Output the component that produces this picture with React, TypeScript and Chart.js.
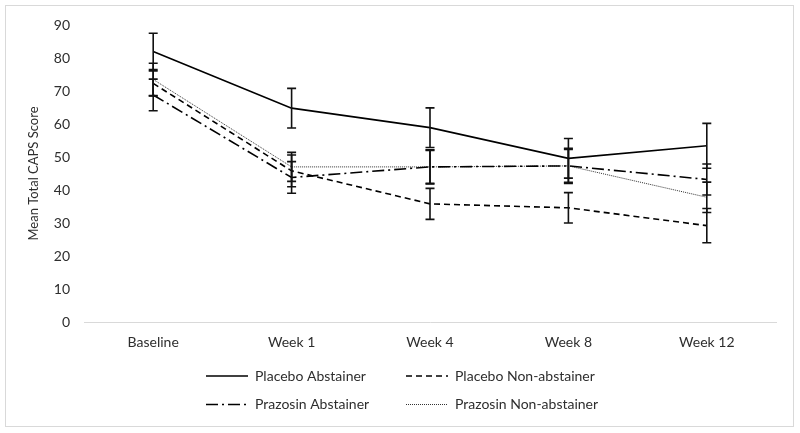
import React, { useEffect, useRef } from "react";
import { Chart, registerables } from "chart.js";

Chart.register(...registerables);

const categories = ["Baseline", "Week 1", "Week 4", "Week 8", "Week 12"];
const yTicks = [0, 10, 20, 30, 40, 50, 60, 70, 80, 90];

const placeboAbstainer = [82, 64.8, 58.9, 49.6, 53.4];
const placeboAbstainerErr = [5.5, 6, 6, 6, 6.8];
const placeboNonAbstainer = [72.3, 45.8, 35.8, 34.6, 29.2];
const placeboNonAbstainerErr = [3.8, 4.8, 4.7, 4.6, 5.2];
const prazosinAbstainer = [68.8, 43.8, 47, 47.3, 43.2];
const prazosinAbstainerErr = [4.8, 4.8, 5, 5.3, 4.7];
const prazosinNonAbstainer = [73.5, 47, 47, 47.3, 37.8];
const prazosinNonAbstainerErr = [4.9, 4.4, 5.2, 5, 4.6];

const seriesNames = [
  "Placebo Abstainer",
  "Placebo Non-abstainer",
  "Prazosin Abstainer",
  "Prazosin Non-abstainer",
];

const FONT = "Lato";
const TEXT = "#2e2e2e";

const errorBarPlugin = {
  id: "errorBars",
  afterDatasetsDraw(chart: any) {
    const ctx = chart.ctx;
    const y = chart.scales.y;
    ctx.save();
    ctx.strokeStyle = "#111";
    ctx.lineWidth = 1.6;
    ctx.setLineDash([]);
    chart.data.datasets.forEach((ds: any, i: number) => {
      const meta = chart.getDatasetMeta(i);
      meta.data.forEach((pt: any, j: number) => {
        const v = ds.data[j];
        const e = ds.errors[j];
        const x = pt.x;
        const top = y.getPixelForValue(v + e);
        const bot = y.getPixelForValue(v - e);
        ctx.beginPath();
        ctx.moveTo(x, top);
        ctx.lineTo(x, bot);
        ctx.moveTo(x - 4.5, top);
        ctx.lineTo(x + 4.5, top);
        ctx.moveTo(x - 4.5, bot);
        ctx.lineTo(x + 4.5, bot);
        ctx.stroke();
      });
    });
    ctx.restore();
  },
};

const customLegendPlugin = {
  id: "customLegend",
  afterDraw(chart: any) {
    const ctx = chart.ctx;
    const cols = [206, 406];
    const rows = [376, 404.5];
    ctx.save();
    chart.data.datasets.forEach((ds: any, i: number) => {
      const cx = cols[i % 2];
      const cy = rows[Math.floor(i / 2)];
      ctx.strokeStyle = ds.borderColor;
      ctx.lineWidth = ds.borderWidth;
      ctx.setLineDash(ds.borderDash || []);
      ctx.beginPath();
      ctx.moveTo(cx, cy);
      ctx.lineTo(cx + 42, cy);
      ctx.stroke();
      ctx.setLineDash([]);
      ctx.fillStyle = TEXT;
      ctx.font = `14px ${FONT}`;
      ctx.textBaseline = "middle";
      ctx.textAlign = "left";
      ctx.fillText(ds.label, cx + 49, cy);
    });
    ctx.restore();
  },
};

const frameBorderPlugin = {
  id: "frameBorder",
  beforeDraw(chart: any) {
    const ctx = chart.ctx;
    ctx.save();
    ctx.fillStyle = "#ffffff";
    ctx.fillRect(0, 0, chart.width, chart.height);
    ctx.strokeStyle = "#d9d9d9";
    ctx.lineWidth = 1;
    ctx.strokeRect(5.5, 5.5, 788, 421);
    ctx.restore();
  },
};

export default function App() {
  const canvasRef = useRef<HTMLCanvasElement>(null);

  useEffect(() => {
    if (!canvasRef.current) return;
    const chart = new Chart(canvasRef.current, {
      type: "line",
      data: {
        labels: categories,
        datasets: [
          {
            label: seriesNames[0],
            data: placeboAbstainer,
            errors: placeboAbstainerErr,
            borderColor: "#000000",
            borderWidth: 1.6,
            borderDash: [],
            pointRadius: 0,
            tension: 0,
          } as any,
          {
            label: seriesNames[1],
            data: placeboNonAbstainer,
            errors: placeboNonAbstainerErr,
            borderColor: "#000000",
            borderWidth: 1.6,
            borderDash: [6, 4],
            pointRadius: 0,
            tension: 0,
          } as any,
          {
            label: seriesNames[2],
            data: prazosinAbstainer,
            errors: prazosinAbstainerErr,
            borderColor: "#000000",
            borderWidth: 1.6,
            borderDash: [12, 4, 2, 4],
            pointRadius: 0,
            tension: 0,
          } as any,
          {
            label: seriesNames[3],
            data: prazosinNonAbstainer,
            errors: prazosinNonAbstainerErr,
            borderColor: "#333333",
            borderWidth: 1,
            borderDash: [1, 1],
            pointRadius: 0,
            tension: 0,
          } as any,
        ],
      },
      options: {
        responsive: false,
        animation: false,
        layout: { padding: { left: 0, right: 24, top: 25, bottom: 81 } },
        plugins: {
          legend: { display: false },
          tooltip: { enabled: false },
        },
        scales: {
          x: {
            offset: true,
            grid: { display: false, drawTicks: false },
            border: { display: true, color: "#d9d9d9", width: 1 },
            ticks: {
              color: TEXT,
              font: { family: FONT, size: 14 },
              padding: 12,
              maxRotation: 0,
            },
            afterFit(scale: any) {
              scale.height = 30;
            },
          },
          y: {
            min: 0,
            max: 90,
            afterBuildTicks(scale: any) {
              scale.ticks = yTicks.map((v) => ({ value: v }));
            },
            grid: { display: false, drawTicks: false },
            border: { display: false },
            ticks: {
              color: TEXT,
              font: { family: FONT, size: 14 },
              padding: 14,
            },
            title: {
              display: true,
              text: "Mean Total CAPS Score",
              color: TEXT,
              font: { family: FONT, size: 13 },
              padding: { top: 26, bottom: 0 },
            },
            afterFit(scale: any) {
              scale.width = 84;
            },
          },
        },
      },
      plugins: [frameBorderPlugin, errorBarPlugin, customLegendPlugin],
    });
    return () => chart.destroy();
  }, []);

  return (
    <div style={{ position: "absolute", left: 0, top: 0, width: 800, height: 433 }}>
      <canvas ref={canvasRef} width={800} height={433} style={{ width: 800, height: 433 }} />
    </div>
  );
}
